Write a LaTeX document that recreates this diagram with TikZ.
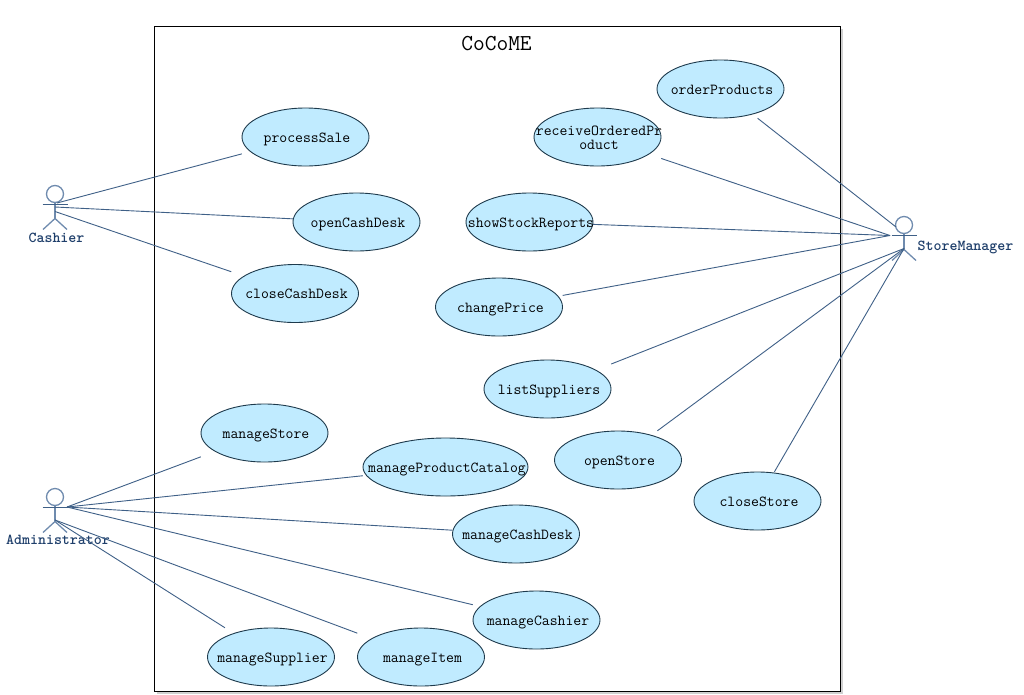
\documentclass[tikz,border=0pt]{standalone}
\usepackage{fontspec}
\usetikzlibrary{shapes.geometric}
\definecolor{ucfill}{HTML}{C0EBFF}
\definecolor{ucedge}{HTML}{1E3A4C}
\definecolor{linkc}{HTML}{3F6087}
\definecolor{actorc}{HTML}{6F8BAE}
\definecolor{actortxt}{HTML}{1F3F6B}
\tikzset{
  usecase/.style={ellipse,draw=ucedge,fill=ucfill,line width=0.9pt,minimum width=127pt,minimum height=58pt,inner sep=0pt,font=\ttfamily\fontsize{15.3}{13.5}\selectfont,text=black},
  clipbox/.style={rectangle,minimum width=127pt,minimum height=58pt,inner sep=0pt},
  link/.style={draw=linkc,line width=0.9pt},
  actorline/.style={draw=actorc,line width=1.3pt},
  actorname/.style={font=\ttfamily\bfseries\fontsize{15.2}{14}\selectfont,text=actortxt,inner sep=0pt}
}
\newcommand{\uctext}[2]{\raisebox{#1pt}[0pt][0pt]{\makebox[0pt][c]{\hspace{3pt}#2}}}
\newcommand{\usecasenode}[4]{%
  \node[usecase] (#1) at (#2,#3) {\uctext{-5}{#4}};
  \node[clipbox] (#1-box) at (#2,#3) {};}
\newcommand{\stickman}[3]{% name, x, head-centre y
  \draw[actorline] (#2,#3) circle (8.5);
  \draw[actorline] (#2,#3+8.5) -- (#2,#3+24.5);
  \draw[actorline] (#2-12,#3+35.5) -- (#2,#3+24.5) -- (#2+12,#3+35.5);
  \draw[draw=linkc,line width=0.9pt] (#2-12.5,#3+10.5) -- (#2+12.5,#3+10.5);}
\begin{document}
\begin{tikzpicture}[x=1pt,y=-1pt]
\useasboundingbox (0,0) rectangle (1024,694);
% system frame with soft shadow
\fill[black!18] (157,29) rectangle (843,694);
\node[draw=black,fill=white,line width=1pt,minimum width=686pt,minimum height=665pt,inner sep=0pt] (frame) at (497.5,359) {};
\node[font=\ttfamily\fontsize{22.8}{24}\selectfont,inner sep=0pt] (title) at (496.5,44) {CoCoME};
% use cases
\usecasenode{processSale}{305.5}{137}{processSale}
\usecasenode{openCashDesk}{356.5}{222}{openCashDesk}
\usecasenode{closeCashDesk}{295}{293.5}{closeCashDesk}
\usecasenode{orderProducts}{720.5}{89}{orderProducts}
\node[usecase] (receive) at (597.5,137) {\uctext{1.5}{receiveOrderedPr}\uctext{-12.3}{oduct}};
\node[clipbox] (receive-box) at (597.5,137) {};
\usecasenode{showStock}{529.5}{222}{showStockReports}
\usecasenode{changePrice}{499}{307}{changePrice}
\usecasenode{listSuppliers}{547.5}{389}{listSuppliers}
\usecasenode{openStore}{618}{460}{openStore}
\usecasenode{closeStore}{757.5}{501}{closeStore}
\usecasenode{manageStore}{264.5}{433}{manageStore}
\node[usecase,minimum width=165pt] (manageCatalog) at (445.5,467) {\uctext{-5}{manageProductCatalog}};
\node[clipbox,minimum width=165pt] (manageCatalog-box) at (445.5,467) {};
\usecasenode{manageCashDesk}{516}{534}{manageCashDesk}
\usecasenode{manageCashier}{536.5}{620}{manageCashier}
\usecasenode{manageSupplier}{271}{657}{manageSupplier}
\usecasenode{manageItem}{421}{657}{manageItem}
% actors
\stickman{cashier}{55}{194}
\stickman{admin}{55}{497}
\stickman{manager}{904}{225}
\node[actorname] (cashierName) at (56.5,238) {Cashier};
\node[actorname] (adminName) at (58,540) {Administrator};
\node[actorname] (managerName) at (965.5,247) {StoreManager};
% connector ports on the actors
\coordinate (c1) at (57,203);
\coordinate (c2) at (55,207);
\coordinate (c3) at (55,211.5);
\coordinate (a1) at (67,507);
\coordinate (a2) at (55,520);
\coordinate (m0) at (896,227);
\coordinate (m1) at (890,235.5);
\coordinate (m2) at (904,248.5);
% connectors
\draw[link] (c1) -- (processSale-box);
\draw[link] (c2) -- (openCashDesk-box);
\draw[link] (c3) -- (closeCashDesk-box);
\draw[link] (a1) -- (manageStore-box);
\draw[link] (a1) -- (manageCatalog-box);
\draw[link] (a1) -- (manageCashDesk-box);
\draw[link] (a1) -- (manageCashier-box);
\draw[link] (a2) -- (manageItem-box);
\draw[link] (a2) -- (manageSupplier-box);
\draw[link] (m0) -- (orderProducts-box);
\draw[link] (m1) -- (receive-box);
\draw[link] (m1) -- (showStock-box);
\draw[link] (m1) -- (changePrice-box);
\draw[link] (m2) -- (listSuppliers-box);
\draw[link] (m2) -- (openStore-box);
\draw[link] (m2) -- (closeStore-box);
\end{tikzpicture}
\end{document}
